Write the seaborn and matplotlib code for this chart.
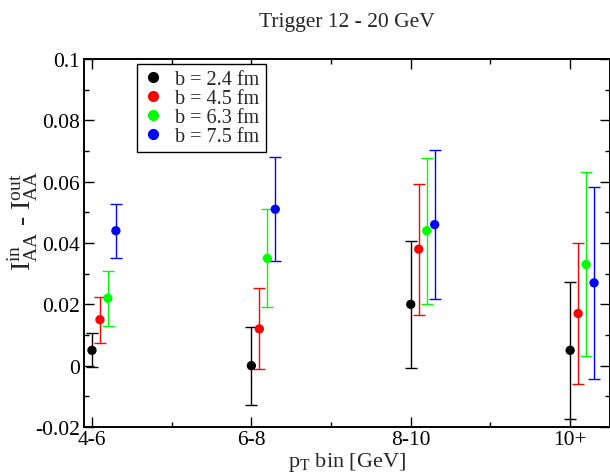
import numpy as np
import pandas as pd
import seaborn as sns
import matplotlib.pyplot as plt
from matplotlib.ticker import MultipleLocator
from matplotlib.lines import Line2D

bins = ["4-6", "6-8", "8-10", "10+"]
series = ["b = 2.4 fm", "b = 4.5 fm", "b = 6.3 fm", "b = 7.5 fm"]
colors = ["#000000", "#ff0000", "#00ff00", "#0000ff"]
ytick_labels = ["-0.02", "0", "0.02", "0.04", "0.06", "0.08", "0.1"]

val_24 = [0.005, 0.000, 0.020, 0.005]
err_24 = [0.0055, 0.0127, 0.0207, 0.0224]
val_45 = [0.015, 0.012, 0.038, 0.017]
err_45 = [0.0075, 0.0132, 0.0214, 0.0230]
val_63 = [0.022, 0.035, 0.044, 0.033]
err_63 = [0.0090, 0.0160, 0.0238, 0.0300]
val_75 = [0.044, 0.051, 0.046, 0.027]
err_75 = [0.0088, 0.0169, 0.0244, 0.0314]

values = [val_24, val_45, val_63, val_75]
errors = [err_24, err_45, err_63, err_75]
offsets = [0.0, 0.05, 0.10, 0.15]

rows = []
for s, vals, errs, off in zip(series, values, errors, offsets):
    for i, (v, e) in enumerate(zip(vals, errs)):
        rows.append({"series": s, "x": i + off, "y": v, "err": e})
df = pd.DataFrame(rows)

sns.set_theme(style="white")
plt.rcParams["font.family"] = ["Liberation Serif", "DejaVu Serif"]
plt.rcParams["mathtext.fontset"] = "custom"
plt.rcParams["mathtext.rm"] = "Liberation Serif"
plt.rcParams["mathtext.it"] = "Liberation Serif"

fig = plt.figure(figsize=(6.1, 4.77), dpi=100)
ax = fig.add_axes([84/610, 1-428/477, (610-84)/610, (428-60)/477])

for s, c in zip(series, colors):
    sub = df[df["series"] == s]
    ax.errorbar(sub["x"], sub["y"], yerr=sub["err"], fmt="none", ecolor=c,
                elinewidth=1.0, capsize=4, capthick=1.0, zorder=2)

sns.scatterplot(data=df, x="x", y="y", hue="series", palette=colors,
                s=45, edgecolor="none", legend=False, ax=ax, zorder=3)

ax.set_xlim(-0.05, 3.25)
ax.set_ylim(-0.02, 0.1)
ax.set_xticks(range(len(bins)))
ax.set_xticklabels(bins)
ax.xaxis.set_minor_locator(MultipleLocator(0.5))
ax.set_yticks([-0.02, 0, 0.02, 0.04, 0.06, 0.08, 0.1])
ax.set_yticklabels(ytick_labels)
ax.yaxis.set_minor_locator(MultipleLocator(0.01))

ax.tick_params(which="both", direction="in", top=True, right=True,
               bottom=True, left=True, colors="black", labelsize=15.5)
ax.tick_params(which="major", length=7.2, width=1)
ax.tick_params(which="minor", length=3.6, width=1)
ax.tick_params(axis="x", pad=2)
ax.tick_params(axis="y", pad=3)
for sp in ax.spines.values():
    sp.set_color("black")
    sp.set_linewidth(1.4)

ax.set_xlabel(r"p$_\mathrm{T}$ bin [GeV]", fontsize=16, labelpad=1)
ax.set_ylabel(r"I$_\mathrm{AA}^{\mathrm{in}}$ - I$_\mathrm{AA}^{\mathrm{out}}$",
              fontsize=20)
ax.yaxis.set_label_coords(-0.083, 0.5625)
ax.set_title("Trigger 12 - 20 GeV", fontsize=15.5, pad=24)

handles = [Line2D([], [], marker="o", linestyle="none", color=c, markersize=7)
           for c in colors]
leg = ax.legend(handles, series, loc="upper left", bbox_to_anchor=(53/526, 363/368),
                fontsize=14.5, frameon=True, fancybox=False, framealpha=1,
                edgecolor="black", handletextpad=0.6, labelspacing=0.0,
                borderpad=0.3, handlelength=1.0, borderaxespad=0)
leg.get_frame().set_linewidth(1.0)

fig.savefig("out.png", dpi=100)
